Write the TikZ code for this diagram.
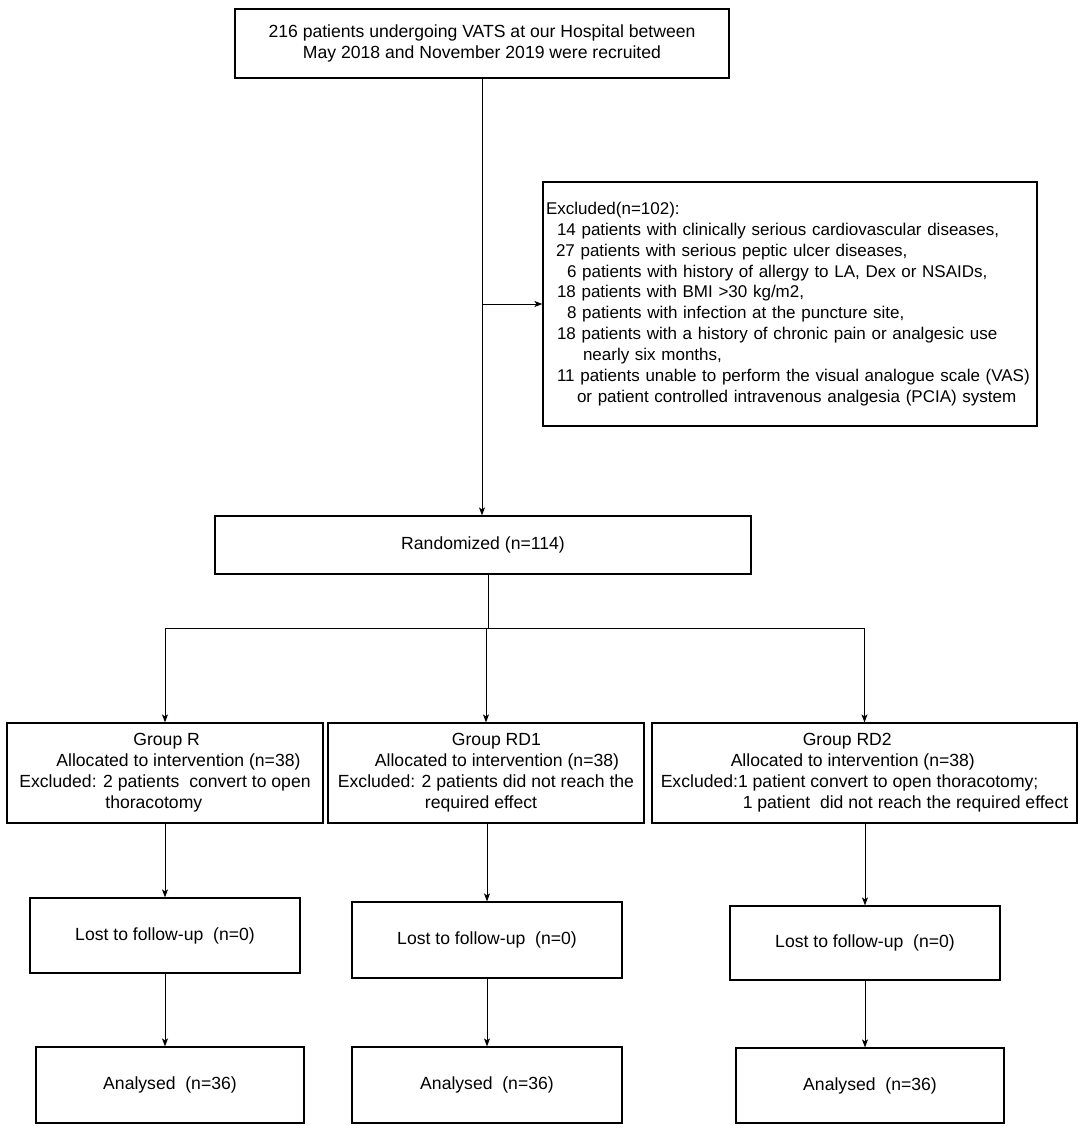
\documentclass[tikz,border=0pt]{standalone}
\usepackage{fontspec}
\setmainfont{Liberation Sans}
\usetikzlibrary{arrows.meta}
\begin{document}
\begin{tikzpicture}[x=1pt,y=-1pt,
  box/.style={draw, line width=1.2pt, rectangle, inner sep=0pt, font=\fontsize{17.6}{21}\selectfont},
  arr/.style={line width=1pt, -{Stealth[length=8pt,width=6pt,inset=2pt]}},
  ln/.style={line width=1pt}]
\useasboundingbox (0,0) rectangle (1084,1128);
\fill[white] (0,0) rectangle (1084,1128);

\node[box, minimum width=494, minimum height=69, align=center] (top) at (482,43.5)
  {216 patients undergoing VATS at our Hospital between\\May 2018 and November 2019 were recruited};

\node[box, minimum width=494, minimum height=244, text width=488, align=left, font=\fontsize{17}{20.9}\selectfont] (excl) at (790,304)
  {\mbox{Excluded(n=102):}\\
  \mbox{\hspace*{11pt}14 patients with clinically serious cardiovascular diseases,}\\
  \mbox{\hspace*{10pt}27 patients with serious peptic ulcer diseases,}\\
  \mbox{\hspace*{21pt}6 patients with history of allergy to LA, Dex or NSAIDs,}\\
  \mbox{\hspace*{11pt}18 patients with BMI >30 kg/m2,}\\
  \mbox{\hspace*{21pt}8 patients with infection at the puncture site,}\\
  \mbox{\hspace*{11pt}18 patients with a history of chronic pain or analgesic use}\\
  \mbox{\hspace*{37pt}nearly six months,}\\
  \mbox{\hspace*{11pt}11 patients unable to perform the visual analogue scale (VAS)}\\
  \mbox{\hspace*{31pt}or patient controlled intravenous analgesia (PCIA) system}};

\node[box, minimum width=536, minimum height=58] (rand) at (483,545) {Randomized (n=114)};

\node[box, minimum width=316, minimum height=100, align=left] (gR) at (165,773)
  {\hspace*{114pt}Group R\\
   \hspace*{37pt}Allocated to intervention (n=38)\\
   Excluded: 2 patients\ \ convert to open\\
   \hspace*{86pt}thoracotomy};
\node[box, minimum width=316, minimum height=100, align=left] (gRD1) at (486,773)
  {\hspace*{114pt}Group RD1\\
   \hspace*{37pt}Allocated to intervention (n=38)\\
   Excluded: 2 patients did not reach the\\
   \hspace*{87pt}required effect};
\node[box, minimum width=425, minimum height=100, align=left] (gRD2) at (864.5,773)
  {\hspace*{142pt}Group RD2\\
   \hspace*{70pt}Allocated to intervention (n=38)\\
   Excluded:1 patient convert to open thoracotomy;\\
   \hspace*{82pt}1 patient\ \ did not reach the required effect};

\node[box, minimum width=270, minimum height=75] (lostR) at (165,935.5) {Lost to follow-up\ \ (n=0)};
\node[box, minimum width=270, minimum height=76] (lostRD1) at (487,940) {Lost to follow-up\ \ (n=0)};
\node[box, minimum width=270, minimum height=74] (lostRD2) at (865,943) {Lost to follow-up\ \ (n=0)};

\node[box, minimum width=268, minimum height=76] (anR) at (170,1085) {Analysed\ \ (n=36)};
\node[box, minimum width=270, minimum height=76] (anRD1) at (487,1085) {Analysed\ \ (n=36)};
\node[box, minimum width=268, minimum height=75] (anRD2) at (870,1085.5) {Analysed\ \ (n=36)};

% top -> randomized, branch to excluded
\draw[arr] (top.south) -- (top.south |- rand.north);
\coordinate (b1) at (top.south |- excl.west);
\draw[arr] (b1) -- (excl.west);

% randomized -> split
\coordinate (hub) at (488,628);
\draw[ln] (hub |- rand.south) -- (hub);
\draw[ln] (gR.north |- hub) -- (gRD2.north |- hub);
\draw[arr] (gR.north |- hub) -- (gR.north);
\draw[arr] (gRD1.north |- hub) -- (gRD1.north);
\draw[arr] (gRD2.north |- hub) -- (gRD2.north);

% groups -> lost
\draw[arr] (lostR.north |- gR.south) -- (lostR.north);
\draw[arr] (lostRD1.north |- gRD1.south) -- (lostRD1.north);
\draw[arr] (lostRD2.north |- gRD2.south) -- (lostRD2.north);

% lost -> analysed
\draw[arr] (lostR.south) -- (lostR.south |- anR.north);
\draw[arr] (lostRD1.south) -- (lostRD1.south |- anRD1.north);
\draw[arr] (lostRD2.south) -- (lostRD2.south |- anRD2.north);
\end{tikzpicture}
\end{document}
